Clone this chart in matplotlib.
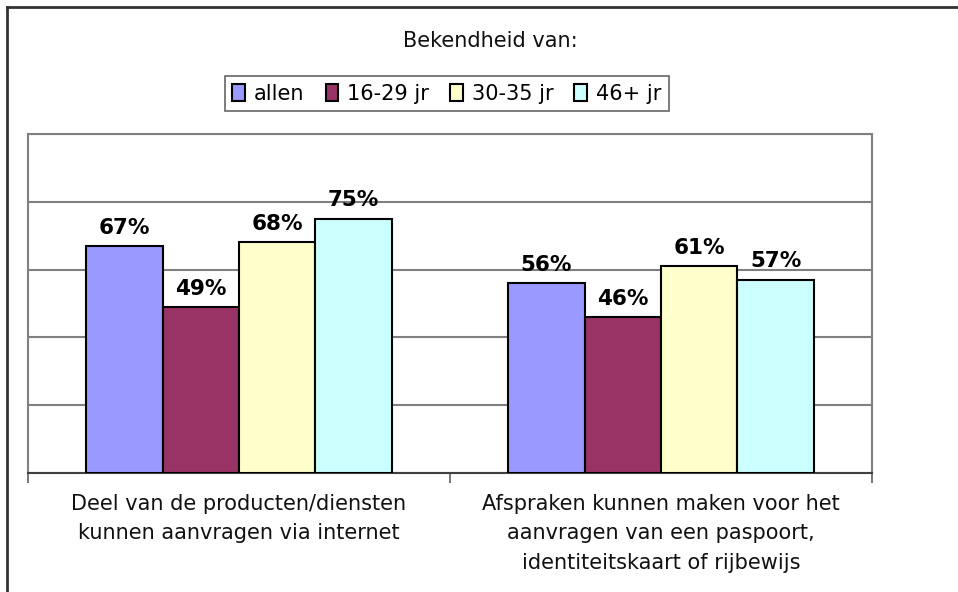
"""
Bekendheid van digitale diensten per leeftijdsgroep (staafdiagram).
"""

import numpy as np
import matplotlib.pyplot as plt
from matplotlib.patches import Patch
from matplotlib.lines import Line2D

plt.rcParams["font.family"] = ["DejaVu Sans"]

# data
categories = [
    "Deel van de producten/diensten\nkunnen aanvragen via internet",
    "Afspraken kunnen maken voor het\naanvragen van een paspoort,\nidentiteitskaart of rijbewijs",
]
groups = ["allen", "16-29 jr", "30-35 jr", "46+ jr"]
allen = [67, 56]
jr_16_29 = [49, 46]
jr_30_35 = [68, 61]
jr_46 = [75, 57]
colors = ["#9999FF", "#993366", "#FFFFCC", "#CCFFFF"]

series = [allen, jr_16_29, jr_30_35, jr_46]

fig = plt.figure(figsize=(9.58, 5.92), dpi=100)
ax = fig.add_axes([28 / 958, 1 - 473 / 592, 844 / 958, 339 / 592])

x = np.arange(len(categories))
w = 0.181  # breedte van een staaf
for i, (vals, col) in enumerate(zip(series, colors)):
    pos = x + (i - 1.5) * w
    bars = ax.bar(pos, vals, width=w, color=col, edgecolor="black",
                  linewidth=1.5, zorder=3, label=groups[i])
    for b, v in zip(bars, vals):
        ax.annotate(f"{v}%", xy=(b.get_x() + b.get_width() / 2, v),
                    xytext=(0, 6), textcoords="offset points",
                    ha="center", va="bottom", fontsize=15.5,
                    fontweight="bold", color="black", zorder=4)

# assen en raster
ax.set_xlim(-0.5, 1.5)
ax.set_ylim(0, 100)
ax.set_yticks(np.arange(0, 101, 20))
ax.set_yticklabels([])
ax.tick_params(axis="y", length=0)
ax.grid(axis="y", color="#808080", linewidth=1.5, zorder=0)
for side in ["top", "right", "left"]:
    ax.spines[side].set_color("#808080")
    ax.spines[side].set_linewidth(1.5)
ax.spines["bottom"].set_color("#404040")
ax.spines["bottom"].set_linewidth(1.5)

ax.set_xticks([-0.5, 0.5, 1.5])
ax.set_xticklabels([])
ax.tick_params(axis="x", direction="out", length=7, width=1.2, color="#606060")

# categorie-labels onder de as
for xi, lab in zip(x, categories):
    ax.annotate(lab, xy=(xi, 0), xycoords=("data", "axes fraction"),
                xytext=(0, -15), textcoords="offset points",
                ha="center", va="top", fontsize=15, color="#111111",
                linespacing=1.6)

# titel
fig.text(490 / 958, 1 - 41 / 592, "Bekendheid van:", ha="center",
         va="center", fontsize=15, color="#111111")

# legenda
handles = [Patch(facecolor=c, edgecolor="black", linewidth=1.5) for c in colors]
leg = fig.legend(handles, groups, loc="center", ncol=4,
                 bbox_to_anchor=(447 / 958, 1 - 93.5 / 592),
                 fontsize=15, frameon=True, fancybox=False,
                 handlelength=0.6, handleheight=0.85, handletextpad=0.45,
                 columnspacing=1.0, borderpad=0.35, borderaxespad=0)
leg.get_frame().set_edgecolor("#404040")
leg.get_frame().set_linewidth(1.2)

# buitenrand van de grafiek
fig.add_artist(Line2D([7 / 958, 7 / 958], [0, 1 - 7 / 592],
                      transform=fig.transFigure, color="#333333", linewidth=2))
fig.add_artist(Line2D([7 / 958, 1], [1 - 7 / 592, 1 - 7 / 592],
                      transform=fig.transFigure, color="#333333", linewidth=2))

fig.savefig("out.png", dpi=100)
